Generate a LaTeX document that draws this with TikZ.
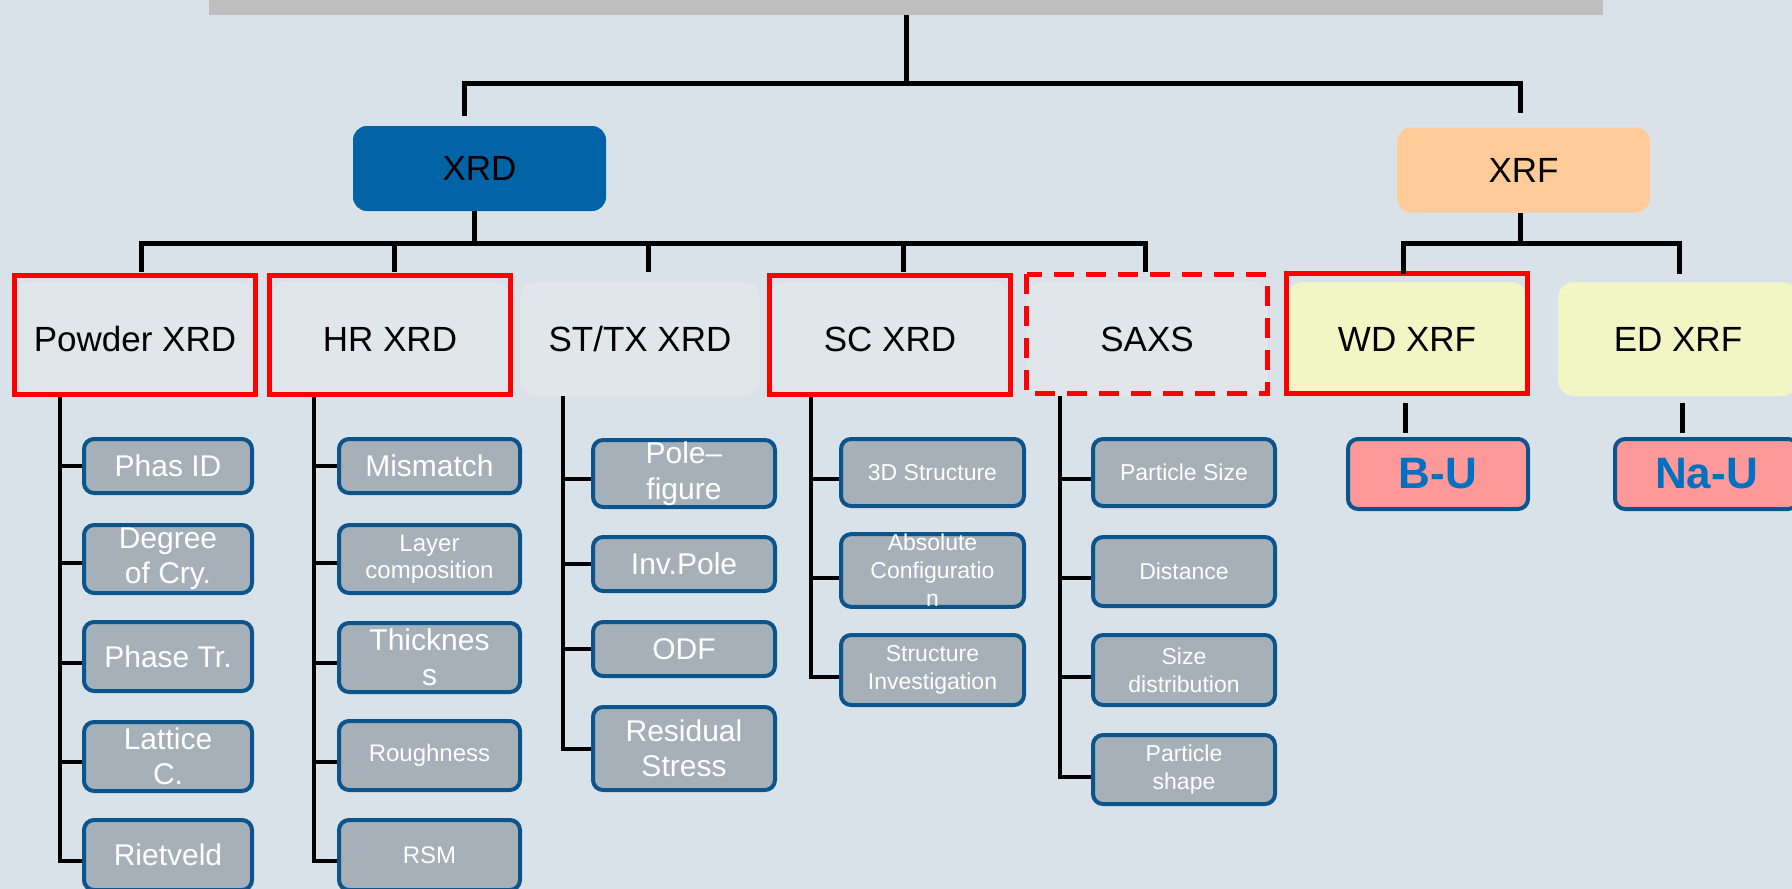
\documentclass[tikz,border=0pt]{standalone}
\usepackage{fontspec}
\setmainfont{Liberation Sans}
\definecolor{bgc}{HTML}{DAE2E9}
\definecolor{innerbg}{HTML}{E1E6EB}
\definecolor{titlegrey}{HTML}{BFBFBF}
\definecolor{xrdblue}{HTML}{0063A6}
\definecolor{xrforange}{HTML}{FFCC99}
\definecolor{paleyellow}{HTML}{F2F5C4}
\definecolor{leafgrey}{HTML}{A5B0B8}
\definecolor{leafblue}{HTML}{0C548C}
\definecolor{elempink}{HTML}{FF9999}
\definecolor{elemblue}{HTML}{0070C0}
\definecolor{framered}{HTML}{FF0000}
\begin{document}
\begin{tikzpicture}[x=1pt,y=-1pt,
  conn/.style={line width=5pt},
  treeline/.style={line width=4pt},
  topbox/.style={rounded corners=14pt, minimum width=253pt, minimum height=85pt, inner sep=0pt,
    font=\fontsize{35}{38}\selectfont},
  midbox/.style={fill=innerbg, rounded corners=16pt, minimum width=240pt, minimum height=114pt,
    inner sep=0pt, font=\fontsize{35}{38}\selectfont},
  redframe/.style={draw=framered, line width=5pt},
  leaf/.style={fill=leafgrey, draw=leafblue, line width=4pt, rounded corners=10pt, text=white,
    align=center, inner sep=0pt},
  bigleaf/.style={leaf, font=\fontsize{30}{35.5}\selectfont},
  smallleaf/.style={leaf, font=\fontsize{23}{28}\selectfont},
  elem/.style={fill=elempink, draw=leafblue, line width=4pt, rounded corners=10pt, text=elemblue,
    inner sep=0pt, minimum height=70pt, font=\fontsize{44}{48}\selectfont\bfseries}
]
\useasboundingbox (0,0) rectangle (1792,889);
\clip (0,0) rectangle (1792,889);
\fill[bgc] (0,0) rectangle (1792,889);

% title bar
\node[fill=titlegrey, minimum width=1394pt, minimum height=15pt, inner sep=0pt] (title) at (906,7.5) {};

% level 1
\node[topbox, fill=xrdblue] (xrd) at (479.5,168.5) {XRD};
\node[topbox, fill=xrforange] (xrf) at (1523.5,170) {XRF};

% level 2
\node[midbox] (pw) at (135,339) {Powder XRD};
\node[midbox] (hr) at (390,339) {HR XRD};
\node[midbox] (st) at (640,339) {ST/TX XRD};
\node[midbox] (sc) at (890,339) {SC XRD};
\node[midbox] (sx) at (1147,339) {SAXS};
\node[midbox, fill=paleyellow] (wd) at (1407,339) {WD XRF};
\node[midbox, fill=paleyellow] (ed) at (1678,339) {ED XRF};

% red frames
\draw[redframe] ([yshift=6.5pt]pw.north west) rectangle ([yshift=1.5pt]pw.south east);
\draw[redframe] ([yshift=6.5pt]hr.north west) rectangle ([yshift=1.5pt]hr.south east);
\draw[redframe] ([yshift=6.5pt]sc.north west) rectangle ([yshift=1.5pt]sc.south east);
\draw[redframe, dash pattern=on 20pt off 12pt] ([yshift=7.5pt]sx.north west) rectangle ([yshift=2.5pt]sx.south east);
\draw[redframe] ([yshift=8.5pt]wd.north west) rectangle ([yshift=2.5pt]wd.south east);

% leaves: Powder XRD
\node[bigleaf, minimum width=168pt, minimum height=54pt] (pw1) at (168,466) {Phas ID};
\node[bigleaf, minimum width=168pt, minimum height=68pt] (pw2) at (168,559) {Degree\\of Cry.};
\node[bigleaf, minimum width=168pt, minimum height=69pt] (pw3) at (168,656.5) {Phase Tr.};
\node[bigleaf, minimum width=168pt, minimum height=69pt] (pw4) at (168,756.5) {Lattice\\C.};
\node[bigleaf, minimum width=168pt, minimum height=70pt] (pw5) at (168,855) {Rietveld};

% leaves: HR XRD
\node[bigleaf, minimum width=181pt, minimum height=54pt] (hr1) at (429.5,466) {Mismatch};
\node[leaf, font=\fontsize{24}{26.5}\selectfont, minimum width=181pt, minimum height=68pt] (hr2) at (429.5,559) {Layer\\composition};
\node[bigleaf, minimum width=181pt, minimum height=69pt] (hr3) at (429.5,657.5) {Thicknes\\s};
\node[leaf, font=\fontsize{24}{26}\selectfont, minimum width=181pt, minimum height=69pt] (hr4) at (429.5,755.5) {Roughness};
\node[leaf, font=\fontsize{24}{26}\selectfont, minimum width=181pt, minimum height=70pt] (hr5) at (429.5,855) {RSM};

% leaves: ST/TX XRD
\node[bigleaf, minimum width=182pt, minimum height=67pt] (st1) at (684,473.5) {Pole--\\figure};
\node[bigleaf, minimum width=182pt, minimum height=54pt] (st2) at (684,564) {Inv.Pole};
\node[bigleaf, minimum width=182pt, minimum height=54pt] (st3) at (684,649) {ODF};
\node[bigleaf, minimum width=182pt, minimum height=83pt] (st4) at (684,748.5) {Residual\\Stress};

% leaves: SC XRD
\node[smallleaf, minimum width=183pt, minimum height=67pt] (sc1) at (932.5,472.5) {3D Structure};
\node[smallleaf, minimum width=183pt, minimum height=69pt] (sc2) at (932.5,570.5) {Absolute\\Configuratio\\n};
\node[smallleaf, minimum width=183pt, minimum height=70pt] (sc3) at (932.5,670) {Structure\\Investigation};

% leaves: SAXS
\node[smallleaf, minimum width=182pt, minimum height=67pt] (sx1) at (1184,472.5) {Particle Size};
\node[smallleaf, minimum width=182pt, minimum height=69pt] (sx2) at (1184,571.5) {Distance};
\node[smallleaf, minimum width=182pt, minimum height=70pt] (sx3) at (1184,670) {Size\\distribution};
\node[smallleaf, minimum width=182pt, minimum height=69pt] (sx4) at (1184,769.5) {Particle\\shape};

% elements
\node[elem, minimum width=180pt] (bu) at (1438,474) {B-U};
\node[elem, minimum width=183pt] (nu) at (1706.5,474) {Na-U};

% level 1 connectors
\coordinate (busA) at (0,83);
\coordinate (busB) at (0,243);
\coordinate (xrdtop) at ([xshift=-15pt,yshift=10pt]xrd.north);
\coordinate (xrftop) at ([xshift=-3pt,yshift=14pt]xrf.north);
\draw[conn] (title.south) -- (title.south |- busA);
\draw[conn] (xrdtop) |- (xrftop |- busA) -- (xrftop);

% level 2 connectors
\coordinate (xrdbot) at ([xshift=-5pt]xrd.south);
\coordinate (xrfbot) at ([xshift=-3pt]xrf.south);
\coordinate (pwtop) at ([xshift=6pt,yshift=10pt]pw.north);
\coordinate (hrtop) at ([xshift=4pt,yshift=10pt]hr.north);
\coordinate (sttop) at ([xshift=8pt,yshift=10pt]st.north);
\coordinate (sctop) at ([xshift=13pt,yshift=10pt]sc.north);
\coordinate (sxtop) at ([xshift=-2pt,yshift=10pt]sx.north);
\coordinate (wdtop) at ([xshift=-4pt,yshift=8pt]wd.north);
\coordinate (edtop) at ([xshift=1pt,yshift=8pt]ed.north);
\draw[conn] (xrdbot) -- (xrdbot |- busB);
\draw[conn] (pwtop) |- (sxtop |- busB) -- (sxtop);
\draw[conn] (hrtop) -- (hrtop |- busB);
\draw[conn] (sttop) -- (sttop |- busB);
\draw[conn] (sctop) -- (sctop |- busB);
\draw[conn] (xrfbot) -- (xrfbot |- busB);
\draw[conn] (wdtop) |- (edtop |- busB) -- (edtop);

% element connectors
\coordinate (wdb) at ([xshift=-2pt,yshift=-7pt]wd.south);
\coordinate (edb) at ([xshift=4pt,yshift=-7pt]ed.south);
\coordinate (bun) at ([yshift=4pt]bu.north);
\coordinate (nun) at ([yshift=4pt]nu.north);
\draw[conn] (wdb) -- (wdb |- bun);
\draw[conn] (edb) -- (edb |- nun);

% tree trunks
\coordinate (pwt) at ([xshift=45pt,yshift=-1pt]pw.south west);
\coordinate (hrt) at ([xshift=44pt,yshift=-1pt]hr.south west);
\coordinate (stt) at ([xshift=43pt]st.south west);
\coordinate (sct) at ([xshift=41pt,yshift=-1pt]sc.south west);
\coordinate (sxt) at ([xshift=33pt]sx.south west);

\draw[treeline] (pwt) |- (pw1.west);
\draw[treeline] (pwt) |- ([yshift=-4pt]pw2.west);
\draw[treeline] (pwt) |- ([yshift=-6pt]pw3.west);
\draw[treeline] (pwt) |- ([yshift=-5pt]pw4.west);
\draw[treeline] (pwt) |- ([yshift=-6pt]pw5.west);

\draw[treeline] (hrt) |- (hr1.west);
\draw[treeline] (hrt) |- ([yshift=-4pt]hr2.west);
\draw[treeline] (hrt) |- ([yshift=-5pt]hr3.west);
\draw[treeline] (hrt) |- ([yshift=-6pt]hr4.west);
\draw[treeline] (hrt) |- ([yshift=-6pt]hr5.west);

\draw[treeline] (stt) |- ([yshift=-5pt]st1.west);
\draw[treeline] (stt) |- (st2.west);
\draw[treeline] (stt) |- (st3.west);
\draw[treeline] (stt) |- (st4.west);

\draw[treeline] (sct) |- ([yshift=-6pt]sc1.west);
\draw[treeline] (sct) |- ([yshift=-7pt]sc2.west);
\draw[treeline] (sct) |- ([yshift=-7pt]sc3.west);

\draw[treeline] (sxt) |- ([yshift=-6pt]sx1.west);
\draw[treeline] (sxt) |- ([yshift=-6pt]sx2.west);
\draw[treeline] (sxt) |- ([yshift=-7pt]sx3.west);
\draw[treeline] (sxt) |- ([yshift=-7pt]sx4.west);
\end{tikzpicture}
\end{document}
